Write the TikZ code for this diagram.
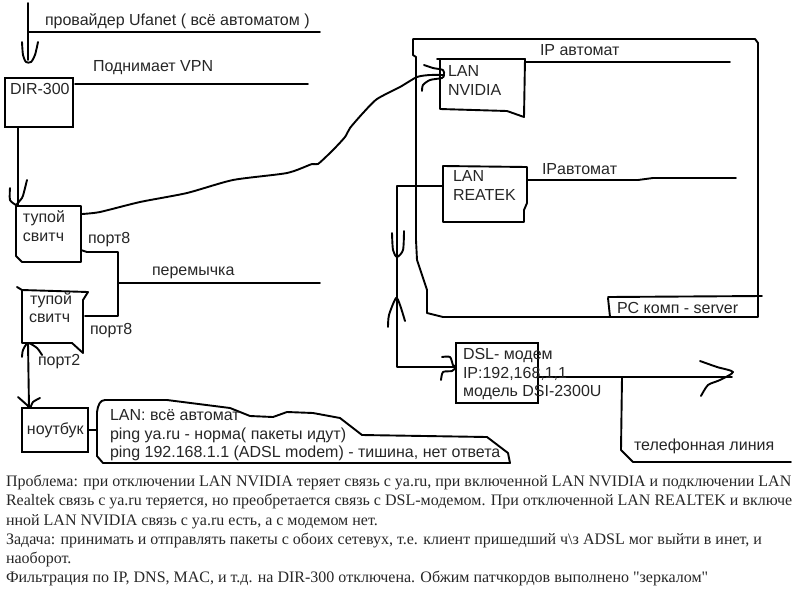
\documentclass[tikz,border=0pt]{standalone}
\usepackage{fontspec}
\setmainfont{Liberation Sans}
\newfontfamily\noteserif{Liberation Serif}
\usetikzlibrary{calc}
\tikzset{
  ink/.style={line width=1.9pt,line join=round,line cap=round,black},
  lbl/.style={anchor=base west,inner sep=0pt,outer sep=0pt,font=\fontsize{16}{16}\selectfont,text=black!85},
  boxn/.style={anchor=north west,inner sep=0pt,outer sep=0pt},
  drawn/.style={boxn,draw=black,line width=1.9pt},
  note/.style={anchor=north west,inner sep=0pt,outer sep=0pt,align=left,font=\noteserif\fontsize{16}{19.3}\selectfont,text=black!85}
}
\newcommand{\hand}[1]{\draw[ink] plot[smooth,tension=.45] coordinates {#1};}
\begin{document}
\begin{tikzpicture}[x=1pt,y=-1pt]
\useasboundingbox (0,0) rectangle (800,600);
% boxes
\node[drawn,minimum width=68pt,minimum height=49pt] (dir) at (5,78) {};
\node[boxn,minimum width=65pt,minimum height=56pt] (swa) at (16,206) {};
\node[boxn,minimum width=63pt,minimum height=56pt] (swb) at (22,288) {};
\node[drawn,minimum width=66pt,minimum height=44pt] (note) at (22,408) {};
\node[boxn,minimum width=84pt,minimum height=50pt] (nv) at (440,59) {};
\node[boxn,minimum width=84pt,minimum height=56pt] (re) at (443,166) {};
\node[drawn,minimum width=82pt,minimum height=60pt] (dsl) at (456,343) {};
\node[boxn,minimum width=343pt,minimum height=278pt] (pc) at (415,39) {};
\node[boxn,minimum width=413pt,minimum height=63pt] (call) at (97,400) {};
% outlines
\draw[ink] (swa.north west) -- (swa.north east) -- (81,262) -- (22,262) -- (16,256) -- cycle;
\draw[ink] (17,287) -- (22,290) -- (88,292) -- (83,300) -- (83,353) -- (72,343) -- (22,343) -- (22,290);
\draw[ink] (437,59) -- (525,59) -- (524,117) -- (507,111) -- (440,109) -- (440,59);
\draw[ink] (443,166) -- (527,167) -- (527,203) -- (524,210) -- (524,222) -- (443,222) -- cycle;
\draw[ink] (413,39) -- (413,55) -- (416,57) -- (416,240) -- (417,260) -- (427,290) -- (427,313) -- (443,317) -- (758,317) -- (758,43) -- (755,39) -- cycle;
\draw[ink] (608,298) -- (610,317);
\draw[ink] (608,297) -- (762,296);
\draw[ink] (97,430) -- (97,412) .. controls (98,405) and (100,400) .. (105,400) -- (167,400)
  -- (230,408) -- (250,416) -- (273,417) -- (287,412) -- (313,413) -- (340,418) -- (362,435) -- (487,437) -- (508,453) -- (510,463) -- (103,463) -- (97,456) -- cycle;
% free ends
\coordinate (ufTop) at (28,3);
\coordinate (ufIn) at (28,60);
\coordinate (ufEnd) at (320,32);
\coordinate (ufJoin) at (28,32);
\coordinate (vpnEnd) at (308,84);
\coordinate (jumpEnd) at (320,283);
\coordinate (jumpTop) at (118,252);
\coordinate (jumpBot) at (118,316);
\coordinate (jumpMid) at (118,283);
\coordinate (ipaEnd) at (730,62);
\coordinate (ipbEnd) at (736,178);
\coordinate (bend) at (397,186);
\coordinate (corner) at (397,367);
\coordinate (lineEnd) at (732,377);
\coordinate (telJoin) at (622,377);
\coordinate (telEnd) at (791,462);
% connectors
\draw[ink] (ufTop) -- (ufIn);
\draw[ink] (ufJoin) -- (ufEnd);
\draw[ink] ($(dir.north east)+(2,6)$) -- (vpnEnd);
\draw[ink] ($(dir.south west)+(13,0)$) -- (18,206);
\draw[ink] plot[smooth,tension=.4] coordinates {(82,214) (100,212) (140,202) (187,193) (233,180) (287,173) (312,164) (318,164) (333,150) (345,137) (350,128) (363,113) (377,99) (400,87) (417,77) (430,75) (443,75)};
\draw[ink] (81,250) -- (87,252) -- (jumpTop) -- (jumpBot) -- (85,316);
\draw[ink] (jumpMid) -- (jumpEnd);
\draw[ink] (28,343) -- (29,408);
\draw[ink] (note.east |- 0,430) -- (97,430);
\draw[ink] (525,62) -- (ipaEnd);
\draw[ink] (527,180) -- (638,180) -- (653,178) -- (ipbEnd);
\draw[ink] (443,186) -- (bend) -- (corner) -- (dsl.west |- corner);
\draw[ink] (537,377) -- (lineEnd);
\draw[ink] (telJoin) -- (621,450) -- (633,462) -- (telEnd);
% hand-drawn arrowheads
\hand{(22,42) (23,55) (26,62) (31,62) (35,55) (38,42)}
\hand{(10,188) (10,200) (16,205)}
\hand{(27,180) (24,192) (22,198) (16,205)}
\hand{(22,357) (23,350) (28,343) (37,348) (42,355)}
\hand{(18,397) (27,405) (30,408) (33,402) (40,398)}
\hand{(424,65) (433,68) (443,70) (444,75) (442,78) (430,80) (423,85) (422,91)}
\hand{(392,233) (393,250) (397,257) (403,250) (404,231)}
\hand{(388,327) (389,315) (396,298) (400,305) (405,321)}
\hand{(442,357) (450,357) (453,365) (456,367) (452,371) (443,372) (441,380)}
\hand{(700,361) (717,367) (733,372) (720,380) (708,385) (701,396)}
% labels
\node[lbl] (t1) at (45,25) {провайдер Ufanet ( всё автоматом )};
\node[lbl] (t2) at (93,71) {Поднимает VPN};
\node[lbl] (t3) at (10,94) {DIR-300};
\node[lbl] (t4) at (23,222) {тупой};
\node[lbl] (t5) at (23,241) {свитч};
\node[lbl] (t6) at (88,243) {порт8};
\node[lbl] (t7) at (152,275) {перемычка};
\node[lbl] (t8) at (30,304) {тупой};
\node[lbl] (t9) at (29,322) {свитч};
\node[lbl] (t10) at (90,334) {порт8};
\node[lbl] (t11) at (38,365) {порт2};
\node[lbl] (t12) at (27,434) {ноутбук};
\node[lbl] (t13) at (110,420) {LAN: всё автомат};
\node[lbl] (t14) at (110,439) {ping ya.ru - норма( пакеты идут)};
\node[lbl] (t15) at (110,457) {ping 192.168.1.1 (ADSL modem) - тишина, нет ответа};
\node[lbl] (t16) at (540,55) {IP автомат};
\node[lbl] (t17) at (448,76) {LAN};
\node[lbl] (t18) at (448,95) {NVIDIA};
\node[lbl] (t19) at (453,181) {LAN};
\node[lbl] (t20) at (453,200) {REATEK};
\node[lbl] (t21) at (542,174) {IPавтомат};
\node[lbl] (t22) at (617,313) {PC комп - server};
\node[lbl] (t23) at (463,359) {DSL- модем};
\node[lbl] (t24) at (463,378) {IP:192,168,1,1};
\node[lbl] (t25) at (463,396) {модель DSI-2300U};
\node[lbl] (t26) at (634,450) {телефонная линия};
\node[note] (body) at (6,475) {Проблема: при отключении LAN NVIDIA теряет связь с ya.ru, при включенной LAN NVIDIA и подключении LAN\\
Realtek связь с ya.ru теряется, но преобретается связь с DSL-модемом. При отключенной LAN REALTEK и включе\\
нной LAN NVIDIA связь с ya.ru есть, а с модемом нет.\\
Задача: принимать и отправлять пакеты с обоих сетевух, т.е. клиент пришедший ч\textbackslash з ADSL мог выйти в инет, и\\
наоборот.\\
Фильтрация по IP, DNS, MAC, и т.д. на DIR-300 отключена. Обжим патчкордов выполнено "зеркалом"};
\end{tikzpicture}
\end{document}
